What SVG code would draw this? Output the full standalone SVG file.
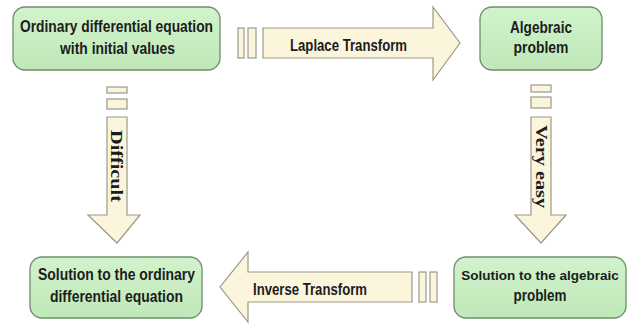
<svg xmlns="http://www.w3.org/2000/svg" width="633" height="325" viewBox="0 0 633 325">
<defs>
<linearGradient id="g" x1="0" y1="0" x2="0" y2="1">
<stop offset="0" stop-color="#d2f3cc"/>
<stop offset="1" stop-color="#bfe8b8"/>
</linearGradient>
<style>
.box{fill:url(#g);stroke:#6f8d6c;stroke-width:1.3}
.arr{fill:#fbf5dc;stroke:#9c998a;stroke-width:1.2}
.t{font-family:"Liberation Sans",Arial,sans-serif;font-weight:bold;font-size:16px;fill:#1c1c1c;text-anchor:middle}
.s{font-family:"Liberation Serif","Times New Roman",serif;font-weight:bold;font-size:17px;fill:#1c1c1c;text-anchor:middle}
</style>
</defs>
<rect width="633" height="325" fill="#ffffff"/>
<g id="connectors">
<g id="laplace">
<rect class="arr" x="238" y="28" width="6" height="30"/>
<rect class="arr" x="248" y="28" width="8" height="30"/>
<path class="arr" d="M263,28 H433 V7 L460,43 L433,80 V58 H263 Z"/>
<text class="t" x="348.5" y="51" textLength="117" lengthAdjust="spacingAndGlyphs">Laplace Transform</text>
</g>
<g id="difficult">
<rect class="arr" x="107" y="87" width="20" height="6"/>
<rect class="arr" x="107" y="99" width="20" height="10"/>
<path class="arr" d="M107,117 H127 V215 H140 L117,243 L88,215 H107 Z"/>
<text class="s" transform="translate(117,166) rotate(90)" x="0" y="6" textLength="72" lengthAdjust="spacingAndGlyphs">Difficult</text>
</g>
<g id="veryeasy">
<rect class="arr" x="531" y="85" width="20" height="7"/>
<rect class="arr" x="531" y="97" width="20" height="11"/>
<path class="arr" d="M531,117 H551 V215 H566 L541,243 L515,215 H531 Z"/>
<text class="s" transform="translate(541,166.5) rotate(90)" x="0" y="5" textLength="83" lengthAdjust="spacingAndGlyphs">Very easy</text>
</g>
<g id="inverse">
<rect class="arr" x="419" y="272" width="7" height="30"/>
<rect class="arr" x="430" y="272" width="7" height="30"/>
<path class="arr" d="M412,272 H248 V252 L220,287 L248,322 V302 H412 Z"/>
<text class="t" x="310" y="295" textLength="114" lengthAdjust="spacingAndGlyphs">Inverse Transform</text>
</g>
</g>
<g id="ode">
<rect class="box" x="13" y="7" width="207" height="63" rx="12"/>
<text class="t" x="116.5" y="32" textLength="193" lengthAdjust="spacingAndGlyphs">Ordinary differential equation</text>
<text class="t" x="117.5" y="54" textLength="115" lengthAdjust="spacingAndGlyphs">with initial values</text>
</g>
<g id="algebraic">
<rect class="box" x="480" y="7" width="122" height="63" rx="12"/>
<text class="t" x="541" y="33" textLength="62" lengthAdjust="spacingAndGlyphs">Algebraic</text>
<text class="t" x="541" y="53" textLength="55" lengthAdjust="spacingAndGlyphs">problem</text>
</g>
<g id="sol-ode">
<rect class="box" x="30" y="257" width="172" height="61" rx="12"/>
<text class="t" x="116.5" y="280" textLength="157" lengthAdjust="spacingAndGlyphs">Solution to the ordinary</text>
<text class="t" x="116.5" y="302" textLength="133" lengthAdjust="spacingAndGlyphs">differential equation</text>
</g>
<g id="sol-alg">
<rect class="box" x="454" y="257" width="172" height="61" rx="12"/>
<text class="t" x="540" y="280" style="font-size:13.5px">Solution to the algebraic</text>
<text class="t" x="540" y="301" textLength="53" lengthAdjust="spacingAndGlyphs">problem</text>
</g>
</svg>
